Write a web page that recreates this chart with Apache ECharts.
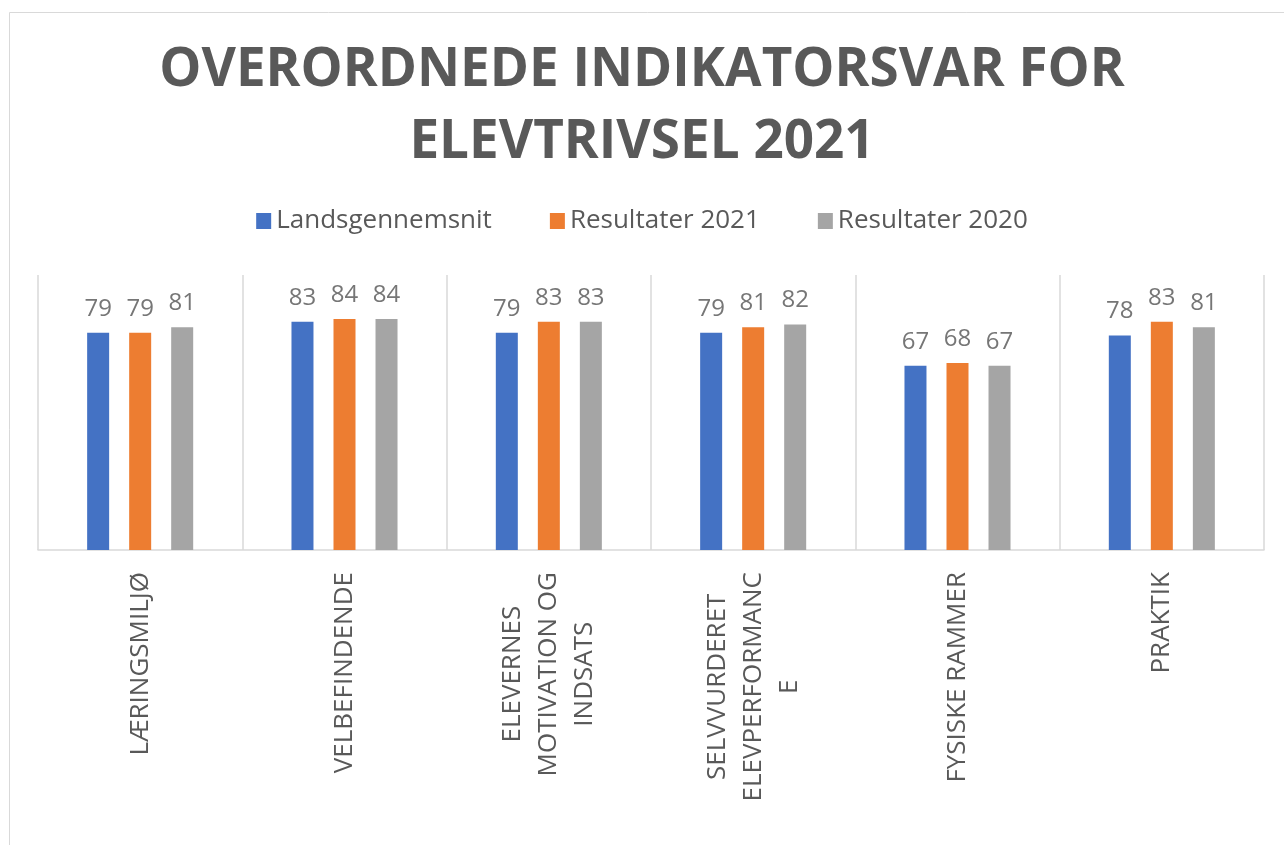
<!DOCTYPE html>
<html>
<head>
<meta charset="utf-8">
<script src="https://cdn.jsdelivr.net/npm/echarts@6/dist/echarts.min.js"></script>
<style>
  html, body { margin: 0; padding: 0; background: #fff; }
  #chart { width: 1284px; height: 845px; }
</style>
</head>
<body>
<div id="chart"></div>
<script>
// data
const categories = [
  'LÆRINGSMILJØ',
  'VELBEFINDENDE',
  'ELEVERNES\nMOTIVATION OG\nINDSATS',
  'SELVVURDERET\nELEVPERFORMANC\nE',
  'FYSISKE RAMMER',
  'PRAKTIK'
]
const seriesNames = ['Landsgennemsnit', 'Resultater 2021', 'Resultater 2020']
const landsgennemsnit = [79, 83, 79, 79, 67, 78]
const resultater2021 = [79, 84, 83, 81, 68, 83]
const resultater2020 = [81, 84, 83, 82, 67, 81]
const colors = ['#4472C4', '#ED7D31', '#A5A5A5']

const chart = echarts.init(document.getElementById('chart'))

const makeSeries = (name, data, idx) => ({
  name,
  type: 'bar',
  data,
  barWidth: 22,
  barGap: '91%',
  itemStyle: { color: colors[idx] },
  label: {
    show: true,
    position: 'top',
    distance: 12,
    color: '#767676',
    fontSize: 24,
    fontFamily: 'Open Sans'
  }
})

const option = {
  animation: false,
  backgroundColor: '#fff',
  title: {
    text: 'OVERORDNEDE INDIKATORSVAR FOR\nELEVTRIVSEL 2021',
    left: 'center',
    top: 30,
    textStyle: {
      color: '#595959',
      fontSize: 53,
      fontWeight: 'bold',
      fontFamily: 'Open Sans',
      lineHeight: 72
    }
  },
  legend: {
    top: 203,
    left: 'center',
    itemWidth: 15,
    itemHeight: 16,
    itemGap: 58,
    icon: 'rect',
    textStyle: {
      color: '#595959',
      fontSize: 26,
      fontFamily: 'Open Sans'
    },
    data: seriesNames
  },
  graphic: [{
    type: 'rect',
    shape: { x: 9.5, y: 12.5, width: 1400, height: 1000 },
    style: { fill: 'none', stroke: '#d9d9d9', lineWidth: 1 },
    silent: true
  }],
  grid: {
    left: 38,
    right: 20,
    top: 275,
    bottom: 295
  },
  xAxis: {
    type: 'category',
    data: categories,
    axisTick: { show: false },
    axisLine: { lineStyle: { color: '#d9d9d9', width: 1.5 } },
    splitLine: { show: true, lineStyle: { color: '#d9d9d9', width: 1.5 } },
    axisLabel: {
      rotate: 90,
      margin: 22,
      interval: 0,
      color: '#595959',
      fontSize: 26,
      fontFamily: 'Open Sans',
      lineHeight: 36,
      formatter: v => v.split('\n').map(s => '{c|' + s + '}').join('\n'),
      rich: {
        c: {
          align: 'center',
          color: '#595959',
          fontSize: 26,
          fontFamily: 'Open Sans',
          lineHeight: 36
        }
      }
    }
  },
  yAxis: {
    type: 'value',
    min: 0,
    max: 100,
    show: false,
    splitLine: { show: false }
  },
  series: [
    makeSeries(seriesNames[0], landsgennemsnit, 0),
    makeSeries(seriesNames[1], resultater2021, 1),
    makeSeries(seriesNames[2], resultater2020, 2)
  ]
}

chart.setOption(option)
</script>
</body>
</html>
